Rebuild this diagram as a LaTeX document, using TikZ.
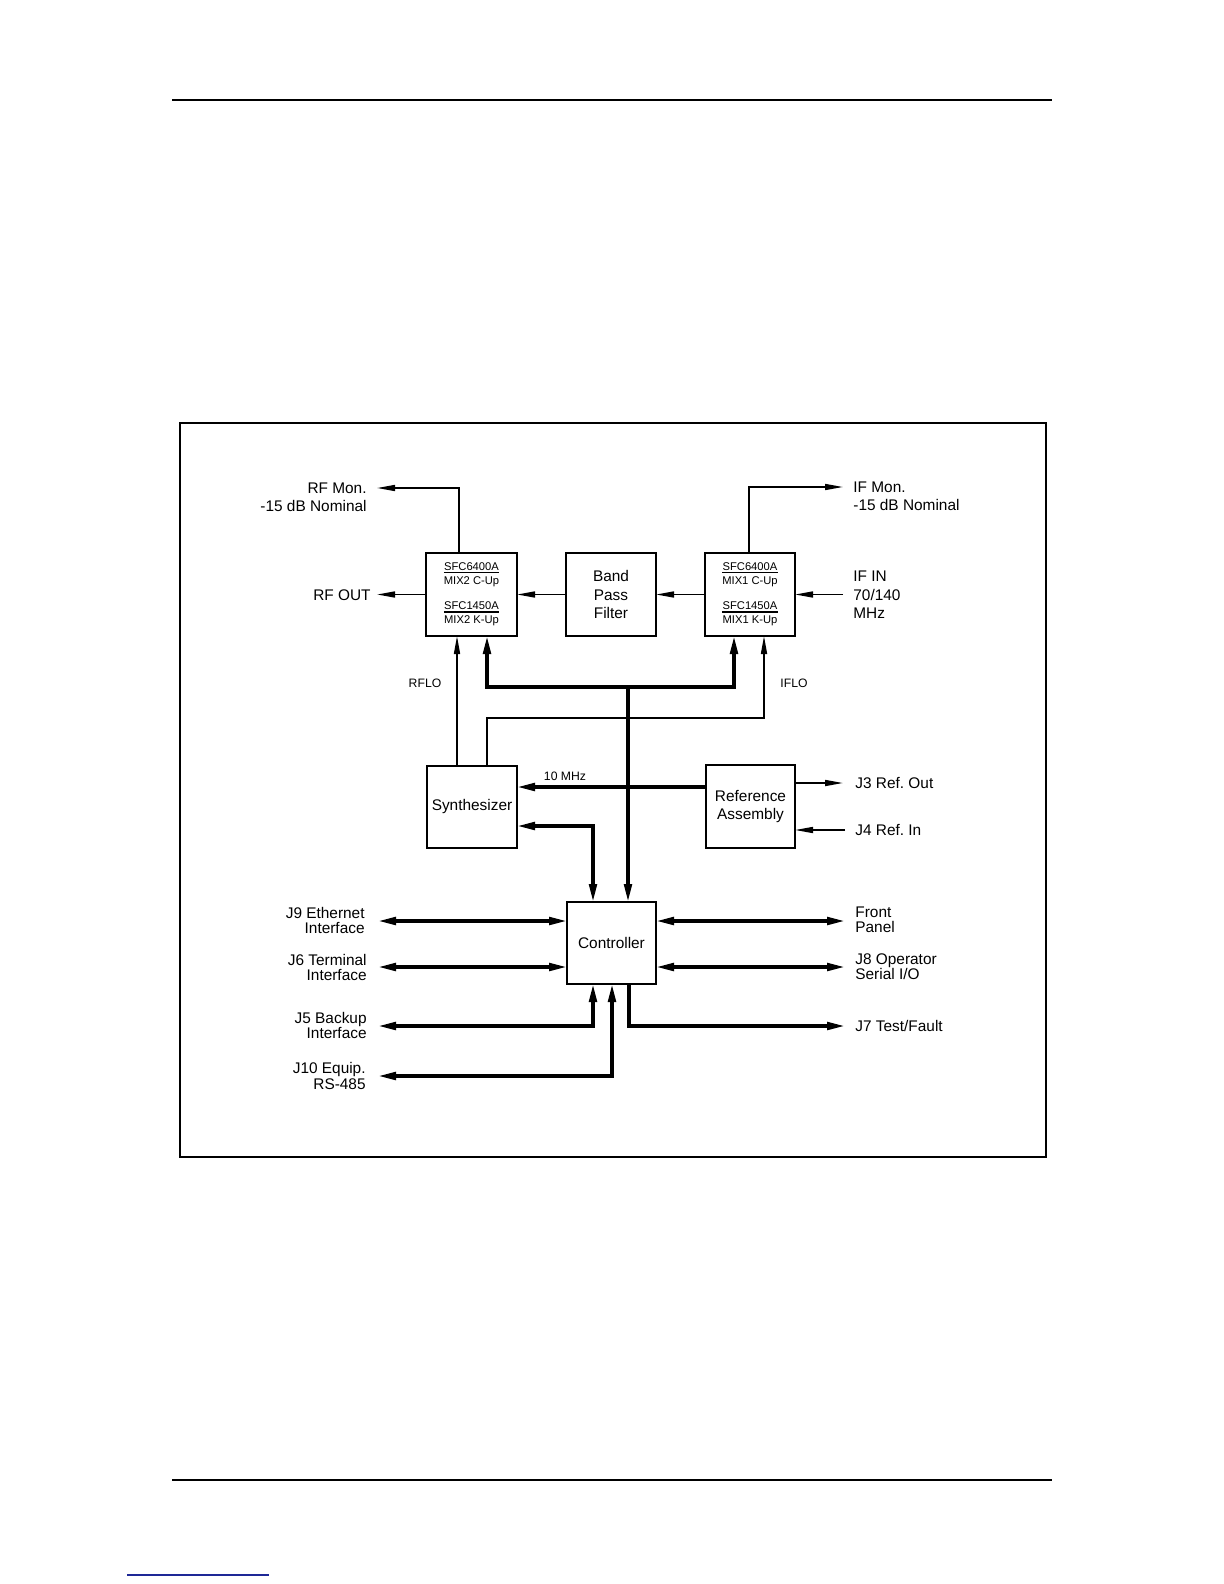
\documentclass[tikz,border=0pt]{standalone}
\usepackage{fontspec}
\setmainfont{Liberation Sans}
\usetikzlibrary{arrows.meta,calc}
\frenchspacing
\definecolor{linkblue}{RGB}{30,40,150}
\newcommand\lblfont{\fontsize{7.7}{9.2}\selectfont}
\newcommand\lblfontb{\fontsize{7.7}{7.6}\selectfont}
\newcommand\mixfont{\fontsize{5.6}{6.5}\selectfont}
\newcommand\lofont{\fontsize{6.1}{7}\selectfont}
\newcommand\mixtab[4]{\setlength\arrayrulewidth{0.6pt}\begin{tabular}{@{}c@{}}#1\\[-1.2pt]\hline\rule{0pt}{5.5pt}#2\\[6.25pt]#3\\[-1.2pt]\hline\rule{0pt}{5.5pt}#4\end{tabular}}
\begin{document}
\begin{tikzpicture}[x=0.5pt,y=-0.5pt,
  box/.style={draw,line width=0.8pt,inner sep=0pt,outer sep=0pt,minimum width=45pt,minimum height=41.5pt,align=center,font=\lblfont},
  mixbox/.style={box,font=\mixfont},
  ln/.style={line width=0.8pt,>={Triangle[length=9pt,width=3pt]}},
  bus/.style={line width=1.65pt,>={Triangle[length=9pt,width=3.8pt]}},
  lbl/.style={inner sep=0pt,font=\lblfont},
  lblb/.style={inner sep=0pt,font=\lblfontb},
  lo/.style={inner sep=0pt,font=\lofont}]
\useasboundingbox (0,0) rectangle (1224,1584);
% page furniture
\draw[line width=0.8pt] (172,100) -- (1052,100);
\draw[line width=0.8pt] (172,1480) -- (1052,1480);
\draw[linkblue,line width=0.9pt] (127,1575) -- (269,1575);
\draw[line width=0.7pt] (180,423) rectangle (1046,1157);
% blocks
\node[mixbox,minimum width=45.5pt] (mix2) at (471.5,594.5) {\mixtab{SFC6400A}{MIX2 C-Up}{SFC1450A}{MIX2 K-Up}};
\node[box] (bpf) at (611,594.5) {Band\\Pass\\Filter};
\node[mixbox] (mix1) at (750,594.5) {\mixtab{SFC6400A}{MIX1 C-Up}{SFC1450A}{MIX1 K-Up}};
\node[box,minimum height=41pt] (syn) at (472,807) {Synthesizer};
\node[box,minimum width=44.5pt] (ref) at (750.5,806.5) {Reference\\Assembly};
\node[box,minimum width=44.5pt,minimum height=41pt] (ctl) at (611.5,943) {Controller};
% free ends and alignment coordinates
\coordinate (rfmon) at (377,488);
\coordinate (ifmon) at (843,487);
\coordinate (ifin) at (843,595);
\coordinate (xrflo) at (457,0);
\coordinate (xbusl) at (487,0);
\coordinate (xbusr) at (734,0);
\coordinate (xiflo) at (764,0);
\coordinate (xbus) at (628,0);
\coordinate (xsc) at (593,0);
\coordinate (xj10) at (612,0);
\coordinate (xj7) at (629,0);
\coordinate (busy) at (0,687);
\coordinate (loy) at (0,718);
\coordinate (tenm) at (0,787);
\coordinate (scy) at (0,826);
\coordinate (j3) at (843,783);
\coordinate (j4) at (845,830);
\coordinate (j9) at (378,921);
\coordinate (j6) at (378,967);
\coordinate (fp) at (845,921);
\coordinate (j8) at (845,967);
\coordinate (j5) at (378,1026);
\coordinate (j10) at (378,1076);
\coordinate (j7) at (845,1026);
% RF chain
\draw[ln,->] ($(mix2.north)+(-12.5,0)$) |- (rfmon);
\draw[ln,->] (mix2.west) -- (mix2.west -| rfmon);
\draw[ln,->] (bpf.west) -- (mix2.east);
\draw[ln,->] (mix1.west) -- (bpf.east);
\draw[ln,->] (ifin |- mix1.east) -- (mix1.east);
\draw[ln,->] ($(mix1.north)+(-1,0)$) |- (ifmon);
% LO lines
\draw[ln,->] (syn.north -| xrflo) -- (mix2.south -| xrflo);
\draw[ln,->] (syn.north -| xbusl) -- (xbusl |- loy) -| (mix1.south -| xiflo);
% control bus
\draw[bus,<->] (mix2.south -| xbusl) |- (xbus |- busy) -| (mix1.south -| xbusr);
\draw[bus,->] (xbus |- busy) -- (ctl.north -| xbus);
\draw[bus,->] (ref.west |- tenm) -- (syn.east |- tenm);
\draw[bus,<->] (syn.east |- scy) -| (ctl.north -| xsc);
% reference I/O
\draw[ln,->] (ref.east |- j3) -- (j3);
\draw[ln,->] (j4) -- (ref.east |- j4);
% controller I/O
\draw[bus,<->] (j9) -- (ctl.west |- j9);
\draw[bus,<->] (j6) -- (ctl.west |- j6);
\draw[bus,<->] (ctl.east |- fp) -- (fp);
\draw[bus,<->] (ctl.east |- j8) -- (j8);
\draw[bus,<->] (ctl.south -| xsc) |- (j5);
\draw[bus,<->] (ctl.south -| xj10) |- (j10);
\draw[bus,->] (ctl.south -| xj7) |- (j7);
% labels
\node[lbl,anchor=east,align=right] (lrfmon) at (367,497) {RF Mon.\\-15 dB Nominal};
\node[lbl,anchor=east] (lrfout) at (371,595) {RF OUT};
\node[lbl,anchor=west,align=left] (lifmon) at (853,496) {IF Mon.\\-15 dB Nominal};
\node[lbl,anchor=west,align=left] (lifin) at (853,595) {IF IN\\70/140\\MHz};
\node[lo] (lrflo) at (425,683) {RFLO};
\node[lo] (liflo) at (794,683) {IFLO};
\node[lo] (l10) at (565,776) {10 MHz};
\node[lbl,anchor=west] (lj3) at (855,783) {J3 Ref. Out};
\node[lbl,anchor=west] (lj4) at (855,830) {J4 Ref. In};
\node[lblb,anchor=east,align=right] (lj9) at (365,920.5) {J9 Ethernet\\Interface};
\node[lblb,anchor=east,align=right] (lj6) at (367,967.5) {J6 Terminal\\Interface};
\node[lblb,anchor=east,align=right] (lj5) at (367,1025.5) {J5 Backup\\Interface};
\node[lblb,anchor=east,align=right] (lj10) at (366,1076) {J10 Equip.\\RS-485};
\node[lblb,anchor=west,align=left] (lfp) at (855,919.5) {Front\\Panel};
\node[lblb,anchor=west,align=left] (lj8) at (855,966.5) {J8 Operator\\Serial I/O};
\node[lbl,anchor=west] (lj7) at (855,1026) {J7 Test/Fault};
\end{tikzpicture}
\end{document}
